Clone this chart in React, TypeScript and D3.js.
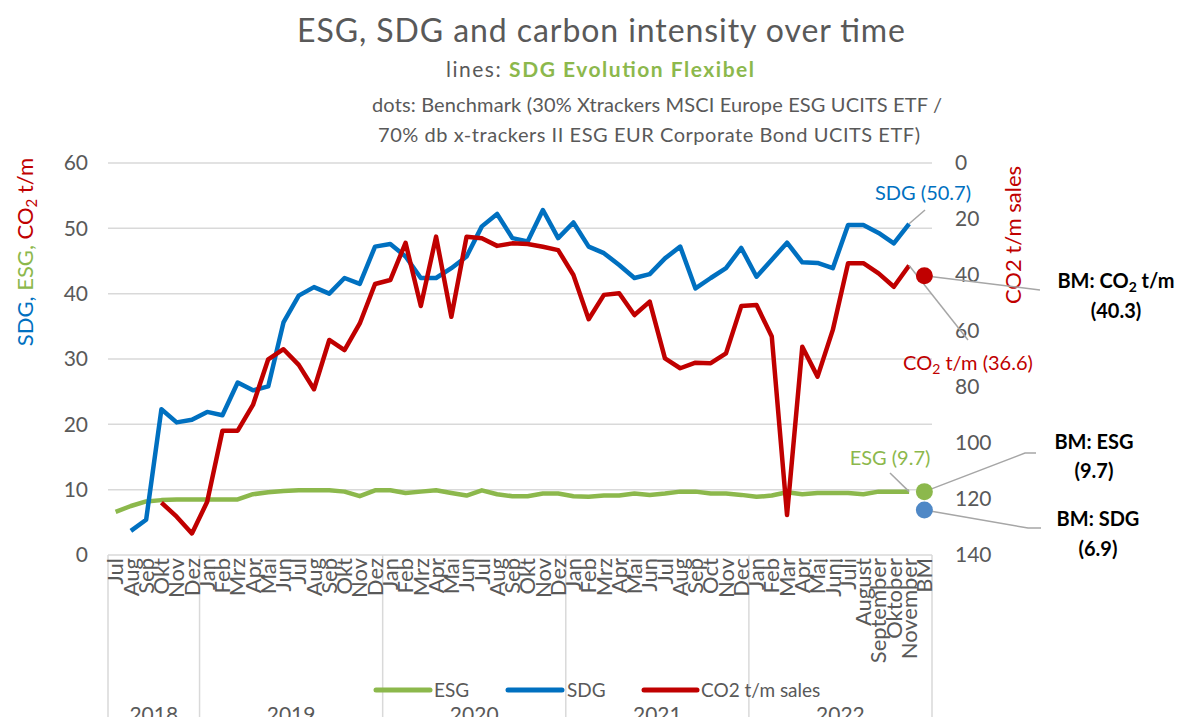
import * as d3 from 'd3';

// category axis
const months = [
  'Jul', 'Aug', 'Sep', 'Okt', 'Nov', 'Dez',
  'Jan', 'Feb', 'Mrz', 'Apr', 'Mai', 'Jun', 'Jul', 'Aug', 'Sep', 'Okt', 'Nov', 'Dez',
  'Jan', 'Feb', 'Mrz', 'Apr', 'Mai', 'Jun', 'Jul', 'Aug', 'Sep', 'Okt', 'Nov', 'Dez',
  'Jan', 'Feb', 'Mrz', 'Apr', 'Mai', 'Jun', 'Jul', 'Aug', 'Sep', 'Oct', 'Nov', 'Dec',
  'Jan', 'Feb', 'Mar', 'Apr', 'Mai', 'Juni', 'Juli', 'August', 'September', 'Oktober', 'November', 'BM',
];
const years = ['2018', '2019', '2020', '2021', '2022'];
const yearCounts = [6, 12, 12, 12, 12];

// lines: SDG Evolution Flexibel
const esg = [
  6.6, 7.5, 8.2, 8.4, 8.5, 8.5,
  8.5, 8.5, 8.5, 9.3, 9.6, 9.8, 9.9, 9.9, 9.9, 9.7, 9.0, 9.9,
  9.9, 9.5, 9.7, 9.9, 9.5, 9.1, 9.9, 9.3, 9.0, 9.0, 9.4, 9.4,
  9.0, 8.9, 9.1, 9.1, 9.4, 9.2, 9.4, 9.7, 9.7, 9.4, 9.4, 9.2,
  8.9, 9.1, 9.6, 9.3, 9.5, 9.5, 9.5, 9.3, 9.7, 9.7, 9.7,
];
const sdg = [
  null, 3.7, 5.4, 22.3, 20.3, 20.7,
  21.9, 21.4, 26.4, 25.2, 25.8, 35.6, 39.7, 41.0, 40.0, 42.4, 41.5, 47.2,
  47.6, 45.7, 42.4, 42.4, 43.9, 45.7, 50.3, 52.2, 48.5, 48.0, 52.8, 48.5,
  50.9, 47.2, 46.2, 44.4, 42.4, 43.0, 45.4, 47.2, 40.8, 42.4, 43.9, 47.0,
  42.6, 45.2, 47.8, 44.8, 44.7, 43.9, 50.5, 50.5, 49.3, 47.7, 50.7,
];
const co2 = [
  null, null, null, 121.3, 126.3, 132.3,
  121.0, 95.6, 95.6, 86.4, 70.1, 66.5, 72.1, 80.8, 63.2, 66.8, 57.3, 43.2,
  41.8, 28.5, 51.1, 26.3, 54.9, 26.3, 26.9, 29.6, 28.7, 28.9, 29.9, 31.1,
  40.0, 55.8, 47.1, 46.5, 54.3, 49.5, 69.8, 73.3, 71.3, 71.5, 68.0, 51.1,
  50.7, 62.0, 125.7, 65.6, 76.3, 59.6, 35.8, 35.8, 39.4, 44.2, 36.6,
];

// dots: benchmark
const bmEsg = 9.7;
const bmSdg = 6.9;
const bmCo2 = 40.3;

const leftTicks = [0, 10, 20, 30, 40, 50, 60];
const rightTicks = [0, 20, 40, 60, 80, 100, 120, 140];

const GREEN = '#8cb84c';
const BLUE = '#0070c0';
const RED = '#c00000';
const GRAY = '#595959';
const GRID = '#d9d9d9';
const LEAD = '#a6a6a6';
const FONT = 'Lato, "Open Sans", sans-serif';

const W = 1181;
const H = 717;

const App = () => {
  const x = d3
    .scaleBand<number>()
    .domain(months.map((_, i) => i))
    .range([108, 932]);
  const cx = (i: number) => (x(i) as number) + x.bandwidth() / 2;
  const yL = d3.scaleLinear().domain([0, 60]).range([555, 163]);
  const yR = d3.scaleLinear().domain([0, 140]).range([163, 555]);

  const lineL = d3
    .line<number | null>()
    .defined((d) => d !== null)
    .x((_, i) => cx(i))
    .y((d) => yL(d as number));
  const lineR = d3
    .line<number | null>()
    .defined((d) => d !== null)
    .x((_, i) => cx(i))
    .y((d) => yR(d as number));

  // year group boundaries
  let acc = 0;
  const groups = years.map((yr, k) => {
    const start = acc;
    acc += yearCounts[k];
    return { yr, start, end: acc };
  });
  const edge = (i: number) => (i < months.length ? (x(i) as number) : 932);

  const last = esg.length - 1;
  const bmI = months.length - 1;

  return (
    <svg width={W} height={H} style={{ position: 'absolute', left: 0, top: 0 }} fontFamily={FONT}>
      <rect width={W} height={H} fill="#fff" />

      {/* titles */}
      <text x={601} y={42} textAnchor="middle" fontSize={32} fill={GRAY} textLength={608} lengthAdjust="spacing">
        ESG, SDG and carbon intensity over time
      </text>
      <text x={600} y={77} textAnchor="middle" fontSize={21} fill={GRAY} textLength={308} lengthAdjust="spacing">
        lines: <tspan fill={GREEN} fontWeight="bold">SDG Evolution Flexibel</tspan>
      </text>
      <text x={657} y={112} textAnchor="middle" fontSize={20} fill={GRAY} textLength={570} lengthAdjust="spacing">
        dots: Benchmark (30% Xtrackers MSCI Europe ESG UCITS ETF /
      </text>
      <text x={649} y={142} textAnchor="middle" fontSize={20} fill={GRAY} textLength={542} lengthAdjust="spacing">
        70% db x-trackers II ESG EUR Corporate Bond UCITS ETF)
      </text>

      {/* gridlines */}
      {leftTicks.map((t) => (
        <line key={t} x1={108} x2={932} y1={yL(t)} y2={yL(t)} stroke={GRID} strokeWidth={1.5} />
      ))}
      {leftTicks.map((t) => (
        <text key={'l' + t} x={88} y={yL(t)} dy="0.35em" textAnchor="end" fontSize={21} fill={GRAY}>
          {t}
        </text>
      ))}
      {rightTicks.map((t) => (
        <text key={'r' + t} x={955} y={yR(t)} dy="0.35em" textAnchor="start" fontSize={21} fill={GRAY}>
          {t}
        </text>
      ))}

      {/* axis titles */}
      <text transform="translate(33,252) rotate(-90)" textAnchor="middle" fontSize={22}>
        <tspan fill={BLUE}>SDG, </tspan>
        <tspan fill={GREEN}>ESG, </tspan>
        <tspan fill={RED}>CO</tspan>
        <tspan fill={RED} fontSize={15} dy={4}>2</tspan>
        <tspan fill={RED} dy={-4}> t/m</tspan>
      </text>
      <text transform="translate(1021,235) rotate(-90)" textAnchor="middle" fontSize={22} fill={RED}>
        CO2 t/m sales
      </text>

      {/* category axis */}
      {groups.map((g) => (
        <line key={'v' + g.yr} x1={edge(g.start)} x2={edge(g.start)} y1={555} y2={H} stroke={GRID} strokeWidth={1.5} />
      ))}
      <line x1={932} x2={932} y1={555} y2={H} stroke={GRID} strokeWidth={1.5} />
      {months.map((m, i) => (
        <text
          key={'m' + i}
          transform={`translate(${cx(i)},558) rotate(-90)`}
          dy="0.35em"
          textAnchor="end"
          fontSize={22}
          fill={GRAY}
        >
          {m}
        </text>
      ))}
      {groups.map((g) => (
        <text
          key={'y' + g.yr}
          x={(edge(g.start) + edge(g.end)) / 2}
          y={722}
          textAnchor="middle"
          fontSize={21}
          fill={GRAY}
        >
          {g.yr}
        </text>
      ))}

      {/* series */}
      <path d={lineL(esg) as string} fill="none" stroke={GREEN} strokeWidth={4.5} strokeLinejoin="round" />
      <path d={lineL(sdg) as string} fill="none" stroke={BLUE} strokeWidth={4.5} strokeLinejoin="round" />
      <path d={lineR(co2) as string} fill="none" stroke={RED} strokeWidth={4.5} strokeLinejoin="round" />

      {/* leader lines */}
      <g stroke={LEAD} strokeWidth={1.5} fill="none">
        <line x1={cx(last)} y1={yL(sdg[last] as number)} x2={925} y2={210} />
        <line x1={cx(last)} y1={yR(co2[last] as number)} x2={968} y2={340} />
        <line x1={890} y1={473} x2={cx(last)} y2={yL(esg[last])} />
        <polyline points={`${cx(bmI)},${yR(bmCo2)} 1040,290`} />
        <polyline points={`${cx(bmI)},${yL(bmEsg)} 1025,453 1036,453`} />
        <polyline points={`${cx(bmI)},${yL(bmSdg)} 1028,528 1041,528`} />
      </g>

      {/* benchmark dots */}
      <circle cx={cx(bmI)} cy={yR(bmCo2)} r={8.5} fill={RED} />
      <circle cx={cx(bmI)} cy={yL(bmEsg)} r={8.5} fill={GREEN} />
      <circle cx={cx(bmI)} cy={yL(bmSdg)} r={8.5} fill="#4f88c6" />

      {/* data labels */}
      <text x={923} y={200} textAnchor="middle" fontSize={20} fill={BLUE}>
        SDG (50.7)
      </text>
      <text x={968} y={370} textAnchor="middle" fontSize={20} fill={RED}>
        CO<tspan fontSize={14} dy={4}>2</tspan>
        <tspan dy={-4}> t/m (36.6)</tspan>
      </text>
      <text x={890} y={465} textAnchor="middle" fontSize={20} fill={GREEN}>
        ESG (9.7)
      </text>
      <g fontSize={20} fontWeight="bold" fill="#000" textAnchor="middle">
        <text x={1116} y={288}>
          BM: CO<tspan fontSize={14} dy={4}>2</tspan>
          <tspan dy={-4}> t/m</tspan>
        </text>
        <text x={1116} y={318}>(40.3)</text>
        <text x={1094} y={449}>BM: ESG</text>
        <text x={1094} y={478}>(9.7)</text>
        <text x={1098} y={526}>BM: SDG</text>
        <text x={1098} y={556}>(6.9)</text>
      </g>

      {/* legend */}
      <g fontSize={19} fill={GRAY}>
        <line x1={376} x2={430} y1={690} y2={690} stroke={GREEN} strokeWidth={5} strokeLinecap="round" />
        <text x={434} y={697}>ESG</text>
        <line x1={508} x2={562} y1={690} y2={690} stroke={BLUE} strokeWidth={5} strokeLinecap="round" />
        <text x={567} y={697}>SDG</text>
        <line x1={644} x2={697} y1={690} y2={690} stroke={RED} strokeWidth={5} strokeLinecap="round" />
        <text x={701} y={697}>CO2 t/m sales</text>
      </g>
    </svg>
  );
};

export default App;
